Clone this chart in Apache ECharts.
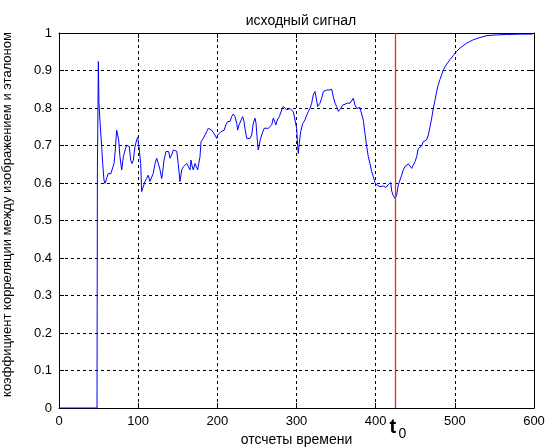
<!DOCTYPE html>
<html>
<head>
<meta charset="utf-8">
<script src="https://cdn.jsdelivr.net/npm/echarts@6/dist/echarts.min.js"></script>
<style>html,body{margin:0;padding:0;background:#fff;}#c{width:547px;height:448px;}</style>
</head>
<body>
<div id="c"></div>
<script>
var titleText = 'исходный сигнал';
var xName = 'отсчеты времени';
var yName = 'коэффициент корреляции между изображением и эталоном';
var t0 = 425;
var sigX = [0,48,48.5,49.7,50.5,51.8,53.9,55.2,56.8,58.1,60.2,62.3,65.3,67.8,69.5,71.1,72.8,74.1,75.4,77,79.2,81.3,83.4,85.5,87.6,88.8,90.5,92.2,93.9,96,98.1,99.4,101,103.2,104.4,106.5,108.6,110.7,112.8,114.9,117.1,119.1,121.3,123.4,125.5,127.6,129.7,131,132.6,135.2,136.8,138.5,140.2,142.3,144.4,146.5,148.7,150.7,152.8,155,157,159.2,161.3,163.3,165.5,166.7,168.4,169.6,171.8,173.9,175.2,176.8,178.1,179.4,182.3,184.4,186.6,188.6,190.7,192.9,194.9,197,199.2,200.4,202.1,204.6,206.3,208.8,210.6,213.1,214.7,216,218.1,220.2,222.3,224.5,225.7,227.4,229.9,232,233.3,234.9,237.1,239.1,241.3,243.4,245.4,247.6,248.9,250.1,251.7,253,254.2,256.8,259.3,261.5,264.4,266.5,268.7,270.7,272.9,274.1,275.7,278.3,281.3,283.3,285.5,287.6,289.6,291.8,293.9,296,298.1,300.2,301.5,302.3,303.5,305.3,307.8,310.7,312.9,314.9,317,319.2,321.2,323.4,325.5,326.8,327.6,329.7,331.8,333.9,336,338.1,341.5,344.5,346.5,348.6,350.8,352.8,354.1,355.8,358.4,361.3,364.2,367.6,370.1,371.8,373.9,376,378.1,380.2,382.3,384.4,386.5,388.7,390.7,392.8,395,397,399.1,401.3,403.3,405.5,407.6,409.6,411.8,413,414.3,416.4,419,420.2,422.3,424.4,426.5,428.6,430.7,432.9,434.9,437,439.2,441.3,443.3,445.5,447.5,449.7,451.8,453.8,456,458.1,460.1,462.3,464.4,466.5,468.6,470.8,472.8,474.9,477.1,479.1,481.2,483.4,485.4,489.7,493.9,498.1,502.3,506.5,515,523.3,531.8,540.2,552.9,565.5,582.3,598];
var sigY = [0,0,0.63,0.924,0.812,0.764,0.697,0.652,0.608,0.599,0.601,0.626,0.624,0.621,0.652,0.688,0.741,0.746,0.715,0.670,0.635,0.670,0.688,0.701,0.706,0.697,0.661,0.652,0.661,0.697,0.715,0.722,0.697,0.652,0.577,0.577,0.604,0.612,0.621,0.604,0.604,0.626,0.652,0.666,0.652,0.635,0.612,0.63,0.661,0.684,0.688,0.684,0.666,0.675,0.688,0.690,0.685,0.650,0.604,0.635,0.643,0.648,0.652,0.648,0.635,0.661,0.643,0.635,0.652,0.655,0.635,0.635,0.670,0.710,0.719,0.728,0.737,0.746,0.750,0.741,0.737,0.728,0.719,0.728,0.733,0.737,0.735,0.741,0.755,0.764,0.768,0.764,0.777,0.784,0.777,0.759,0.741,0.755,0.759,0.777,0.768,0.746,0.719,0.715,0.719,0.728,0.759,0.773,0.759,0.724,0.688,0.701,0.715,0.733,0.746,0.744,0.746,0.741,0.755,0.773,0.777,0.755,0.768,0.777,0.795,0.804,0.799,0.795,0.797,0.799,0.795,0.790,0.768,0.746,0.697,0.679,0.706,0.737,0.759,0.768,0.781,0.790,0.799,0.813,0.835,0.844,0.839,0.804,0.799,0.813,0.826,0.844,0.846,0.848,0.848,0.850,0.830,0.813,0.804,0.791,0.786,0.799,0.808,0.810,0.813,0.813,0.815,0.826,0.808,0.799,0.797,0.801,0.796,0.767,0.732,0.697,0.670,0.652,0.630,0.617,0.601,0.595,0.595,0.590,0.595,0.592,0.597,0.588,0.592,0.597,0.601,0.579,0.566,0.559,0.568,0.595,0.608,0.621,0.635,0.644,0.648,0.651,0.648,0.639,0.644,0.657,0.670,0.692,0.697,0.699,0.710,0.712,0.715,0.728,0.750,0.773,0.799,0.820,0.845,0.862,0.876,0.889,0.902,0.917,0.929,0.940,0.951,0.960,0.973,0.982,0.988,0.993,0.995,0.996,0.997,0.997];

var FONT = 'Liberation Sans';
var sig = sigX.map(function (x, i) { return [x, sigY[i]]; });
var chart = echarts.init(document.getElementById('c'), null, {renderer: 'canvas'});
var axisCommon = {
  axisLine: {show: true, onZero: false, lineStyle: {color: '#000', width: 1}},
  axisTick: {show: true, inside: true, length: 5, lineStyle: {color: '#000'}}
};
chart.setOption({
  animation: false,
  backgroundColor: '#fff',
  title: {
    text: titleText, left: 296, top: 9, textAlign: 'center',
    textStyle: {fontFamily: FONT, fontSize: 14, fontWeight: 'normal', color: '#000'}
  },
  grid: {left: 59, right: 13, top: 33, bottom: 40, containLabel: false, outerBoundsMode: 'none'},
  xAxis: [
    Object.assign({
      type: 'value', min: 0, max: 600, interval: 100, position: 'bottom',
      name: xName, nameLocation: 'middle', nameGap: 25,
      nameTextStyle: {fontFamily: FONT, fontSize: 14, color: '#000'},
      axisLabel: {fontFamily: FONT, fontSize: 13, color: '#000', margin: 7},
      splitLine: {show: true, lineStyle: {color: '#000', type: [3, 3], width: 1}}
    }, axisCommon),
    Object.assign({
      type: 'value', min: 0, max: 600, interval: 100, position: 'top',
      axisLabel: {show: false}, splitLine: {show: false}
    }, axisCommon)
  ],
  yAxis: [
    Object.assign({
      type: 'value', min: 0, max: 1, interval: 0.1, position: 'left',
      name: yName, nameLocation: 'middle', nameGap: 45, nameRotate: 90,
      nameTextStyle: {fontFamily: FONT, fontSize: 13, color: '#000', padding: [0, 0, 0, 12]},
      axisLabel: {fontFamily: FONT, fontSize: 13, color: '#000', margin: 7,
        formatter: function (v) { return (v === 0 || v === 1) ? String(v) : v.toFixed(1); }},
      splitLine: {show: true, lineStyle: {color: '#000', type: [3, 3], width: 1}}
    }, axisCommon),
    Object.assign({
      type: 'value', min: 0, max: 1, interval: 0.1, position: 'right',
      axisLabel: {show: false}, splitLine: {show: false}
    }, axisCommon)
  ],
  series: [
    {
      type: 'line', data: sig, showSymbol: false, symbol: 'none',
      lineStyle: {color: '#0000ff', width: 1}, z: 3,
      markLine: {
        silent: true, symbol: 'none', animation: false,
        label: {show: false},
        lineStyle: {color: '#ff2020', type: 'solid', width: 1.3},
        data: [{xAxis: t0}]
      }
    }
  ]
});
var p = chart.convertToPixel({xAxisIndex: 0, yAxisIndex: 0}, [t0, 0]);
chart.setOption({
  graphic: [
    {type: 'text', left: p[0] - 6, top: p[1] + 9,
      style: {text: 't', fontFamily: FONT, fontSize: 20, fontWeight: 'bold', fill: '#000'}},
    {type: 'text', left: p[0] + 3, top: p[1] + 19,
      style: {text: '0', fontFamily: FONT, fontSize: 14, fill: '#000'}}
  ]
});
</script>
</body>
</html>
